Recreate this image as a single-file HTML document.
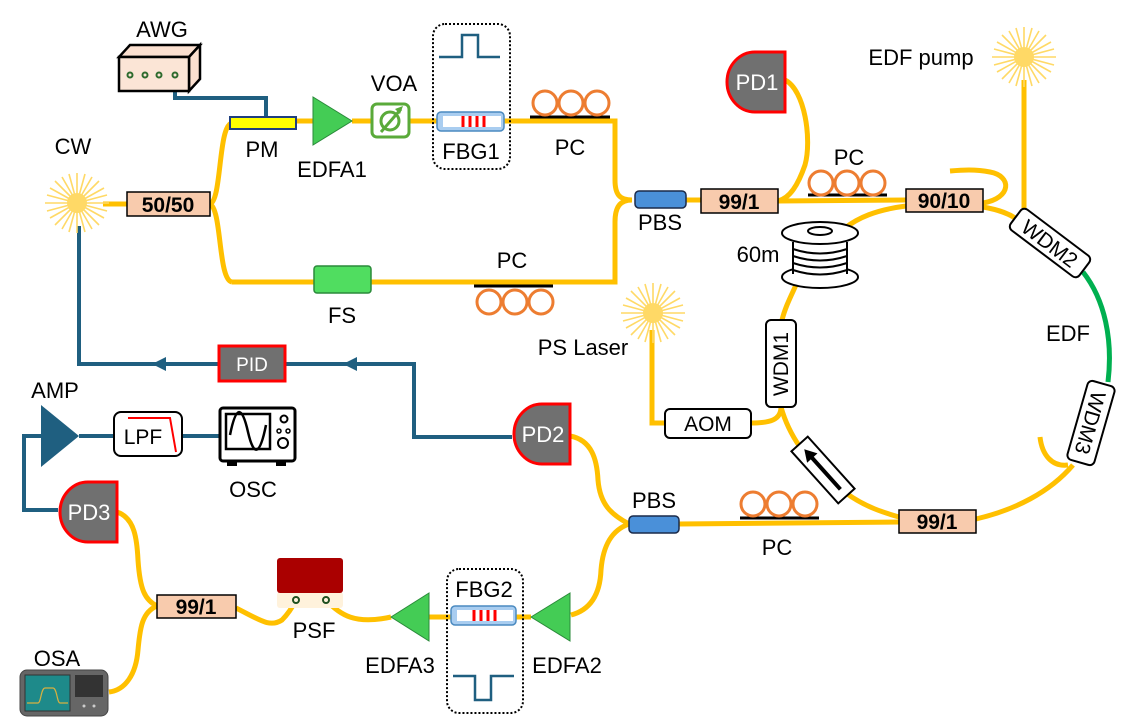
<!DOCTYPE html>
<html><head><meta charset="utf-8"><style>
html,body{margin:0;padding:0;background:#fff}
svg{display:block}
text{font-family:"Liberation Sans",sans-serif}
</style></head><body>
<svg width="1126" height="720" viewBox="0 0 1126 720" xmlns="http://www.w3.org/2000/svg">
<defs>
<g id="star">
<g stroke="#ffd966" stroke-width="1.6">
<line x1="-32" y1="0" x2="32" y2="0"/><line x1="0" y1="-30" x2="0" y2="30"/>
<line x1="-27" y1="-15" x2="27" y2="15"/><line x1="-27" y1="15" x2="27" y2="-15"/>
<line x1="-15" y1="-26" x2="15" y2="26"/><line x1="-15" y1="26" x2="15" y2="-26"/>
<line x1="-22" y1="-22" x2="22" y2="22"/><line x1="-22" y1="22" x2="22" y2="-22"/>
<line x1="-8" y1="-29" x2="8" y2="29"/><line x1="-8" y1="29" x2="8" y2="-29"/>
<line x1="-30" y1="-8" x2="30" y2="8"/><line x1="-30" y1="8" x2="30" y2="-8"/>
</g><circle r="10" fill="#ffd966"/></g>
<g id="pc"><circle cx="-26" cy="0" r="12" fill="none" stroke="#ed7d31" stroke-width="3"/><circle cx="0" cy="0" r="12" fill="none" stroke="#ed7d31" stroke-width="3"/><circle cx="26" cy="0" r="12" fill="none" stroke="#ed7d31" stroke-width="3"/></g>
</defs>

<!-- fibers -->
<g fill="none" stroke="#ffc000" stroke-width="5">
<line x1="103" y1="204" x2="127" y2="204"/>
<path d="M210,204 C222,200 218,125 232,123"/>
<path d="M210,204 C222,210 218,280 232,282"/>
<line x1="296" y1="121" x2="313" y2="121"/>
<line x1="352" y1="121" x2="371" y2="121"/>
<line x1="410" y1="121" x2="437" y2="121"/>
<path d="M504,121 L615,121 L615,180 C615,195 620,200 632,200"/>
<path d="M232,282 L615,282 L615,222 C615,207 620,200 632,200"/>
<line x1="686" y1="200" x2="701" y2="200"/>
<line x1="778" y1="201" x2="906" y2="200"/>
<path d="M785,80 C805,90 812,140 805,165 C798,185 790,198 778,201"/>
<path d="M983,203 C1012,198 1012,176 990,172 C975,169 962,170 950,171"/>
<path d="M983,207 C1000,210 1010,214 1018,220"/>
<line x1="1024" y1="80" x2="1024" y2="208"/>
<path d="M906,206 C875,210 858,218 845,228"/>
<path d="M796,285 C790,298 785,308 782,320"/>
<path d="M652,330 L652,423 L665,423"/>
<path d="M751,423 C770,423 781,420 781,407"/>
<path d="M781,407 C786,425 793,437 800,447"/>
<path d="M846,493 C865,507 885,513 899,517"/>
<path d="M976,519 C1015,510 1050,492 1073,465"/>
<path d="M1040,437 C1042,455 1052,467 1068,465"/>
<path d="M570,436 C592,440 597,460 598,480 C600,505 612,515 629,524"/>
<path d="M629,524 C612,530 603,545 601,570 C600,595 590,610 571,615"/>
<line x1="679" y1="524" x2="899" y2="522"/>
<path d="M117,512 C135,518 137,540 138,560 C140,590 145,600 157,606"/>
<path d="M157,606 C142,612 140,628 138,650 C136,675 125,690 109,692"/>
<path d="M236,608 C260,620 270,628 282,620 C288,614 292,608 296,600"/>
<path d="M326,600 C340,615 355,625 391,617"/>
<line x1="429" y1="617" x2="451" y2="617"/>
<line x1="516" y1="617" x2="531" y2="617"/>
</g>
<path d="M1083,272 C1105,300 1113,340 1108,382" fill="none" stroke="#00b050" stroke-width="5"/>

<!-- blue electrical -->
<g fill="none" stroke="#1f5f80" stroke-width="4">
<path d="M175,75 L175,98 L266,98 L266,117"/>
<path d="M79,226 L79,364 L219,364"/>
<path d="M285,364 L414,364 L414,437 L512,437"/>
<line x1="79" y1="436" x2="114" y2="436"/>
<line x1="182" y1="436" x2="219" y2="436"/>
<path d="M41,436 L24,436 L24,510 L58,510"/>
</g>
<polygon points="152,364 166,357 166,371" fill="#1f5f80"/>
<polygon points="343,364 357,357 357,371" fill="#1f5f80"/>

<!-- stars -->
<use href="#star" x="77" y="203"/>
<use href="#star" x="1024" y="57"/>
<use href="#star" x="653" y="313"/>

<!-- AWG -->
<polygon points="119,57 130,45 200,45 189,57" fill="#fbe0d0" stroke="#000" stroke-width="2.5"/>
<polygon points="189,57 200,45 200,79 189,91" fill="#fbe0d0" stroke="#000" stroke-width="2.5"/>
<rect x="119" y="57" width="70" height="34" fill="#fbe5d6" stroke="#000" stroke-width="2.5"/>
<g fill="none" stroke="#2e6b2e" stroke-width="2"><circle cx="130" cy="75" r="2.5"/><circle cx="145" cy="75" r="2.5"/><circle cx="159" cy="75" r="2.5"/><circle cx="175" cy="75" r="2.5"/></g>

<!-- PM -->
<rect x="230" y="117" width="66" height="12" fill="#ffff00" stroke="#1f3f7f" stroke-width="2"/>
<!-- EDFA1 -->
<polygon points="313,97 313,145 352,121" fill="#44cc55" stroke="#2a8a3a"/>
<!-- VOA -->
<rect x="372" y="104" width="37" height="33" rx="5" fill="#fff" stroke="#5aaa3a" stroke-width="3"/>
<circle cx="390" cy="121" r="9" fill="none" stroke="#5aaa3a" stroke-width="3"/>
<line x1="381" y1="132" x2="401" y2="109" stroke="#5aaa3a" stroke-width="3"/>
<polygon points="403,106 395,109 400,114" fill="#5aaa3a"/>
<!-- FBG1 -->
<rect x="433" y="24" width="77" height="145" rx="12" fill="none" stroke="#000" stroke-width="2" stroke-dasharray="2,2"/>
<path d="M439,57 L462,57 L462,35 L478,35 L478,57 L500,57" fill="none" stroke="#1f5f80" stroke-width="2.5"/>
<rect x="437" y="112" width="67" height="19" rx="4" fill="#a9cdf0" stroke="#4a8ac0" stroke-width="1.5"/>
<rect x="443" y="116" width="58" height="11" fill="#fff"/>
<g stroke="red" stroke-width="3"><line x1="463" y1="116" x2="463" y2="127"/><line x1="470" y1="116" x2="470" y2="127"/><line x1="477" y1="116" x2="477" y2="127"/><line x1="484" y1="116" x2="484" y2="127"/></g>
<!-- FBG2 -->
<rect x="447" y="569" width="76" height="144" rx="12" fill="none" stroke="#000" stroke-width="2" stroke-dasharray="2,2"/>
<path d="M453,676 L475,676 L475,700 L491,700 L491,676 L514,676" fill="none" stroke="#1f5f80" stroke-width="2.5"/>
<rect x="451" y="606" width="65" height="19" rx="4" fill="#a9cdf0" stroke="#4a8ac0" stroke-width="1.5"/>
<rect x="457" y="610" width="56" height="11" fill="#fff"/>
<g stroke="red" stroke-width="3"><line x1="474" y1="610" x2="474" y2="621"/><line x1="481" y1="610" x2="481" y2="621"/><line x1="488" y1="610" x2="488" y2="621"/><line x1="495" y1="610" x2="495" y2="621"/></g>

<!-- FS -->
<rect x="314" y="266" width="57" height="27" rx="3" fill="#50dd60" stroke="#2a8a3a" stroke-width="1.5"/>
<!-- PCs -->
<line x1="530" y1="117" x2="610" y2="117" stroke="#000" stroke-width="3"/><use href="#pc" x="571" y="103"/>
<line x1="474" y1="286" x2="553" y2="286" stroke="#000" stroke-width="3"/><use href="#pc" x="515" y="302"/>
<line x1="808" y1="195" x2="887" y2="195" stroke="#000" stroke-width="3"/><use href="#pc" x="847" y="183"/>
<line x1="740" y1="518" x2="819" y2="518" stroke="#000" stroke-width="3"/><use href="#pc" x="779" y="504"/>

<!-- PBS -->
<rect x="635" y="191" width="51" height="17" rx="4" fill="#4a90d9" stroke="#1a2a4a" stroke-width="1.5"/>
<rect x="629" y="516" width="50" height="17" rx="4" fill="#4a90d9" stroke="#1a2a4a" stroke-width="1.5"/>

<!-- couplers -->
<g fill="#f8cbad" stroke="#000" stroke-width="1.5">
<rect x="127" y="192" width="83" height="24"/>
<rect x="701" y="189" width="77" height="24"/>
<rect x="906" y="189" width="77" height="23"/>
<rect x="899" y="510" width="77" height="23"/>
<rect x="157" y="595" width="79" height="23"/>
</g>
<g font-weight="bold" font-size="21" text-anchor="middle" fill="#000">
<text x="168" y="212">50/50</text>
<text x="739" y="209">99/1</text>
<text x="944" y="208">90/10</text>
<text x="937" y="529">99/1</text>
<text x="196" y="614">99/1</text>
</g>

<!-- PDs -->
<g fill="#707070" stroke="red" stroke-width="3">
<path d="M785,52 L755,52 A28,30 0 0 0 755,112 L785,112 Z"/>
<path d="M570,404 L542,404 A28,30 0 0 0 542,464 L570,464 Z"/>
<path d="M117,482 L88,482 A28,30 0 0 0 88,542 L117,542 Z"/>
<rect x="219" y="346" width="66" height="35"/>
</g>
<g fill="#fff" font-size="22" text-anchor="middle">
<text x="757" y="90">PD1</text>
<text x="543" y="442">PD2</text>
<text x="89" y="520">PD3</text>
<text x="252" y="371" font-size="19">PID</text>
</g>

<!-- spool -->
<g fill="#fff" stroke="#000" stroke-width="2">
<ellipse cx="820" cy="277" rx="38" ry="11"/>
<rect x="793" y="240" width="54" height="36" stroke="none"/>
<path d="M793,242 V274 M847,242 V274"/>
<path d="M793,249 Q820,258 847,249 M793,256 Q820,265 847,256 M793,263 Q820,272 847,263 M793,270 Q820,279 847,270" fill="none"/>
<ellipse cx="820" cy="233" rx="38" ry="11"/>
<ellipse cx="820" cy="231" rx="12" ry="4"/>
</g>

<!-- WDMs -->
<g fill="#fff" stroke="#000" stroke-width="2">
<rect x="766" y="320" width="30" height="87" rx="5"/>
<rect x="-43" y="-13" width="86" height="26" rx="5" transform="translate(1050,243) rotate(37)"/>
<rect x="-41" y="-14" width="82" height="28" rx="5" transform="translate(1091,423) rotate(106)"/>
<rect x="665" y="409" width="86" height="29" rx="5"/>
<rect x="114" y="412" width="68" height="44" rx="7"/>
<rect x="-35" y="-11" width="70" height="22" transform="translate(823,470) rotate(48)"/>
</g>
<g font-size="21" text-anchor="middle">
<text transform="translate(788,364) rotate(-90)">WDM1</text>
<text transform="translate(1050,243) rotate(37) translate(0,8)">WDM2</text>
<text transform="translate(1091,423) rotate(106) translate(0,8)">WDM3</text>
<text x="708" y="431">AOM</text>
<text x="143" y="444">LPF</text>
</g>
<!-- isolator arrow -->
<g transform="translate(823,470) rotate(48)">
<line x1="26" y1="0" x2="-20" y2="0" stroke="#000" stroke-width="4"/>
<polygon points="-28,0 -16,-7 -16,7" fill="#000"/>
</g>
<!-- LPF curve -->
<path d="M128,418 L170,418 L176,452" fill="none" stroke="red" stroke-width="2"/>

<!-- AMP -->
<polygon points="41,405 41,467 79,436" fill="#1f5f80"/>
<!-- OSC -->
<rect x="220" y="408" width="75" height="53" rx="3" fill="#fff" stroke="#000" stroke-width="3"/>
<rect x="226" y="414" width="44" height="35" fill="#fff" stroke="#000" stroke-width="2.5"/>
<path d="M230,435 C236,405 242,405 248,432 C254,458 260,455 266,425" fill="none" stroke="#000" stroke-width="2.5"/>
<circle cx="284" cy="419" r="3.5" fill="none" stroke="#000" stroke-width="2"/>
<circle cx="279" cy="431" r="2" fill="none" stroke="#000" stroke-width="1.5"/><circle cx="288" cy="431" r="2" fill="none" stroke="#000" stroke-width="1.5"/>
<circle cx="283" cy="443" r="5" fill="none" stroke="#000" stroke-width="2"/>
<rect x="227" y="462" width="10" height="4" fill="#000"/><rect x="276" y="462" width="10" height="4" fill="#000"/>

<!-- PSF -->
<rect x="277" y="592" width="66" height="16" rx="3" fill="#fff2dc"/>
<rect x="277" y="558" width="66" height="35" rx="3" fill="#aa0000"/>
<circle cx="296" cy="600" r="3" fill="none" stroke="#1f4f1f" stroke-width="2"/>
<circle cx="326" cy="600" r="3" fill="none" stroke="#1f4f1f" stroke-width="2"/>
<!-- EDFA3/2 -->
<polygon points="391,617 429,593 429,641" fill="#44cc55" stroke="#2a8a3a"/>
<polygon points="531,617 570,593 570,641" fill="#44cc55" stroke="#2a8a3a"/>

<!-- OSA -->
<rect x="20" y="670" width="88" height="46" rx="7" fill="#666" stroke="#444"/>
<rect x="25" y="675" width="45" height="36" fill="#1e8a8a" stroke="#333"/>
<path d="M27,703 L38,703 C41,703 41,688 45,688 L53,688 C57,688 57,703 60,703 L68,703" fill="none" stroke="#d6b040" stroke-width="1.2"/>
<rect x="75" y="675" width="28" height="22" fill="#333"/>
<g fill="#ccc"><circle cx="84" cy="706" r="1.5"/><circle cx="94" cy="706" r="1.5"/></g>

<!-- labels -->
<g font-size="22" text-anchor="middle" fill="#000">
<text x="162" y="37">AWG</text>
<text x="262" y="157">PM</text>
<text x="332" y="177">EDFA1</text>
<text x="394" y="91">VOA</text>
<text x="471" y="159">FBG1</text>
<text x="73" y="154">CW</text>
<text x="570" y="155">PC</text>
<text x="512" y="268">PC</text>
<text x="342" y="323">FS</text>
<text x="660" y="230">PBS</text>
<text x="849" y="165">PC</text>
<text x="921" y="65">EDF pump</text>
<text x="758" y="262">60m</text>
<text x="1068" y="341">EDF</text>
<text x="583" y="355">PS Laser</text>
<text x="654" y="508">PBS</text>
<text x="777" y="555">PC</text>
<text x="55" y="398">AMP</text>
<text x="253" y="497">OSC</text>
<text x="314" y="638">PSF</text>
<text x="400" y="673">EDFA3</text>
<text x="567" y="673">EDFA2</text>
<text x="484" y="597">FBG2</text>
<text x="57" y="666">OSA</text>
</g>
</svg>
</body></html>
